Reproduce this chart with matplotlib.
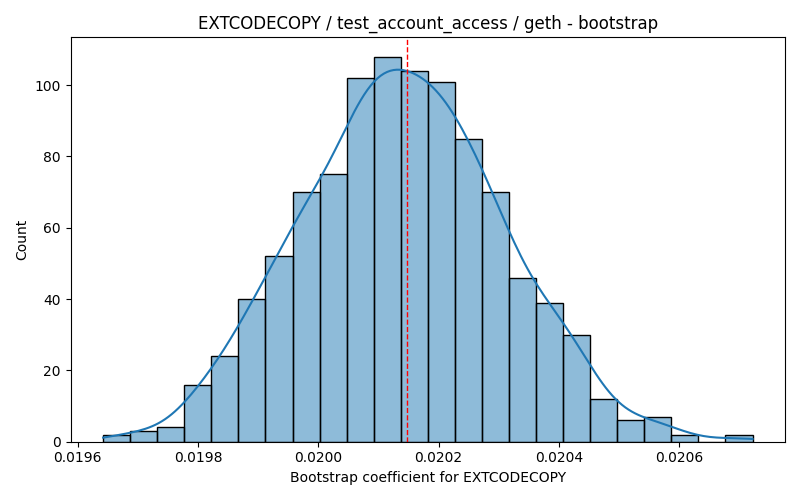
import matplotlib
matplotlib.use("Agg")
import matplotlib.pyplot as plt
import numpy as np

# Bootstrap histogram, 24 bins
bin_start = 0.019642
bin_end = 0.020722
counts = [2, 3, 4, 16, 24, 40, 52, 70, 75, 102, 108, 104,
          101, 85, 70, 46, 39, 30, 12, 6, 7, 2, 0, 2]
mean_value = 0.0201475

title = "EXTCODECOPY / test_account_access / geth - bootstrap"
xlabel = "Bootstrap coefficient for EXTCODECOPY"
ylabel = "Count"

counts = np.array(counts, dtype=float)
edges = np.linspace(bin_start, bin_end, len(counts) + 1)
centers = (edges[:-1] + edges[1:]) / 2
widths = np.diff(edges)
n = counts.sum()

# weighted gaussian kde (scott bandwidth), scaled to counts
mu = np.sum(centers * counts) / n
sd = np.sqrt(np.sum(counts * (centers - mu) ** 2) / (n - 1))
bw = sd * n ** (-1 / 5)
grid = np.linspace(edges[0], edges[-1], 200)
dens = np.sum(counts[None, :] * np.exp(-0.5 * ((grid[:, None] - centers[None, :]) / bw) ** 2), axis=1)
dens /= n * bw * np.sqrt(2 * np.pi)
kde_counts = dens * n * widths[0]

fig, ax = plt.subplots(figsize=(8, 5), dpi=100)
ax.bar(edges[:-1], counts, width=widths, align='edge',
       facecolor=(0.12, 0.47, 0.71, 0.5), edgecolor='black', linewidth=1)
ax.plot(grid, kde_counts, color='#1f77b4', linewidth=1.5)
ax.axvline(mean_value, color='red', linestyle='--', linewidth=1)

ax.set_title(title)
ax.set_xlabel(xlabel)
ax.set_ylabel(ylabel)
fig.tight_layout()
fig.savefig("out.png")
